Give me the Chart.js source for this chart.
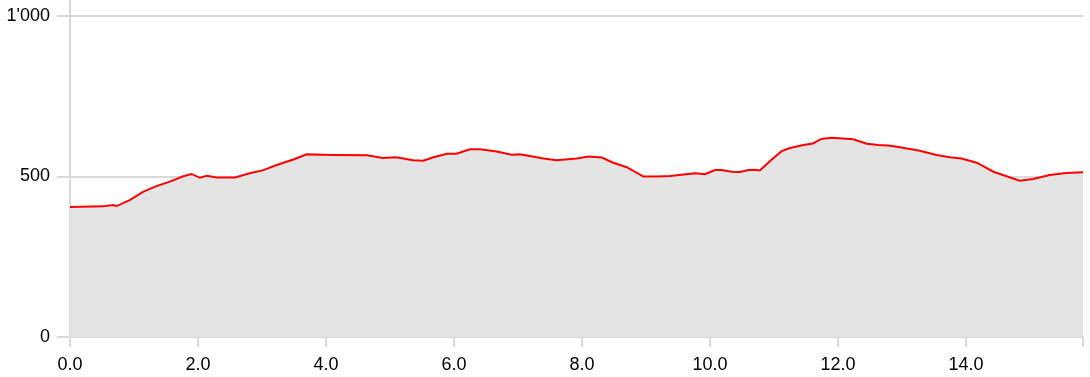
<!DOCTYPE html>
<html>
<head>
<meta charset="utf-8">
<script src="https://cdn.jsdelivr.net/npm/chart.js@4/dist/chart.umd.min.js"></script>
<style>
  html, body { margin: 0; padding: 0; background: #fff; }
  #wrap { width: 1090px; height: 377px; position: relative; }
</style>
</head>
<body>
<div id="wrap"><canvas id="profileChart"></canvas></div>
<script>
// Elevation profile: distance (km) vs elevation (m)
const distances = [0, 0.52, 0.67, 0.73, 0.94, 1.14, 1.35, 1.56, 1.77, 1.90, 2.03, 2.14, 2.29, 2.58, 2.81, 3.02, 3.23, 3.49, 3.70, 4.11, 4.64, 4.89, 5.10, 5.36, 5.52, 5.68, 5.89, 6.04, 6.25, 6.41, 6.67, 6.90, 7.03, 7.40, 7.60, 7.92, 8.10, 8.31, 8.49, 8.70, 8.96, 9.17, 9.38, 9.77, 9.92, 10.08, 10.18, 10.34, 10.47, 10.60, 10.70, 10.78, 10.94, 11.12, 11.25, 11.46, 11.61, 11.74, 11.90, 12.24, 12.45, 12.63, 12.79, 12.97, 13.28, 13.54, 13.75, 13.93, 14.17, 14.43, 14.84, 15.05, 15.31, 15.57, 15.83]
const elevations = [405, 407, 411, 408, 427, 452, 470, 484, 501, 508, 496, 502, 497, 497, 510, 520, 536, 553, 569, 567, 566, 558, 560, 551, 549, 560, 571, 571, 585, 585, 578, 568, 569, 556, 551, 556, 562, 559, 543, 529, 500, 500, 502, 510, 507, 520, 520, 515, 514, 520, 521, 519, 548, 579, 589, 598, 603, 617, 621, 616, 602, 598, 597, 591, 580, 567, 560, 556, 543, 515, 487, 492, 505, 511, 513]
const yTicks = [0, 500, 1000]
const xTickStep = 2

const points = distances.map((d, i) => ({ x: d, y: elevations[i] }))
const gridColor = "#d9d9d9"
const font = { family: "'Liberation Sans', Arial, sans-serif", size: 18 }

const ctx = document.getElementById("profileChart")
new Chart(ctx, {
  type: "line",
  data: {
    datasets: [
      {
        data: points,
        borderColor: "#ff0000",
        borderWidth: 2,
        backgroundColor: "#e4e4e4",
        fill: "origin",
        pointRadius: 0,
        tension: 0,
      },
    ],
  },
  options: {
    responsive: true,
    maintainAspectRatio: false,
    animation: false,
    layout: { padding: { top: 0, right: 7, left: 0, bottom: 0 } },
    plugins: {
      legend: { display: false },
      tooltip: { enabled: false },
    },
    scales: {
      x: {
        type: "linear",
        min: 0,
        max: distances[distances.length - 1],
        afterFit: (scale) => {
          scale.height = 40
          scale.paddingRight = 0
        },
        border: { color: gridColor, width: 2 },
        grid: { drawOnChartArea: false, color: gridColor, lineWidth: 2, tickLength: 10 },
        ticks: {
          stepSize: xTickStep,
          color: "#000",
          font: font,
          padding: 7,
          maxRotation: 0,
          callback: (v) => (Math.abs(v % xTickStep) < 1e-6 ? v.toFixed(1) : ""),
        },
      },
      y: {
        min: 0,
        max: 1050,
        afterFit: (scale) => {
          scale.width = 70
          scale.paddingTop = 0
          scale.paddingBottom = 0
        },
        afterBuildTicks: (axis) => {
          axis.ticks = yTicks.map((v) => ({ value: v }))
        },
        border: { color: gridColor, width: 2 },
        grid: { color: gridColor, lineWidth: 2, tickLength: 13 },
        ticks: {
          color: "#000",
          font: font,
          padding: 7,
          callback: (v) => String(v).replace(/\B(?=(\d{3})+(?!\d))/g, "'"),
        },
      },
    },
  },
})
</script>
</body>
</html>
